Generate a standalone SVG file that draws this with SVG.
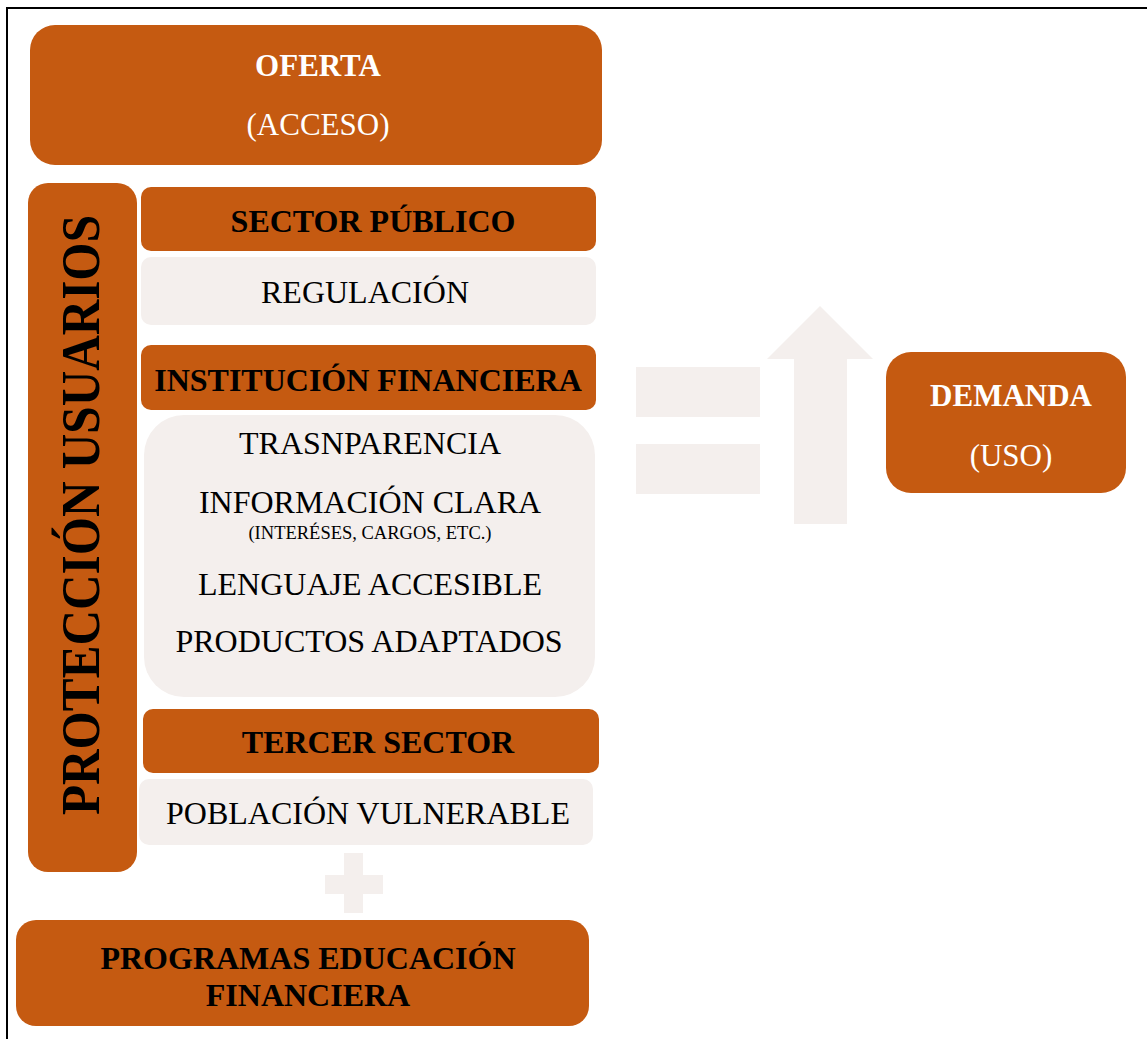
<svg xmlns="http://www.w3.org/2000/svg" width="1147" height="1039" viewBox="0 0 1147 1039">
<style>
.o{fill:#C55A11}
.l{fill:#F4EFED}
text{font-family:"Liberation Serif","Times New Roman",serif;text-anchor:middle}
.b{font-weight:bold;font-size:32px;fill:#000}
.n{font-size:32px;fill:#000}
.w{fill:#fff;font-size:31px}
</style>
<rect x="0" y="0" width="1147" height="1039" fill="#fff"/>
<rect x="7" y="8" width="1150" height="1045" fill="none" stroke="#000" stroke-width="2"/>
<g id="connectors">
<rect class="l" x="636" y="367" width="124" height="50"/>
<rect class="l" x="636" y="444" width="124" height="50"/>
<polygon class="l" points="794,524 847,524 847,359 873,359 820,306 767,359 794,359"/>
<rect class="l" x="344" y="853" width="19" height="60"/>
<rect class="l" x="325" y="875" width="58" height="19"/>
</g>
<g id="oferta">
<rect class="o" x="30" y="25" width="572" height="140" rx="25"/>
<text class="w" x="318" y="76" font-weight="bold">OFERTA</text>
<text class="w" x="318" y="135">(ACCESO)</text>
</g>
<g id="proteccion">
<rect class="o" x="28" y="183" width="109" height="689" rx="20"/>
<text class="b" transform="translate(99,515) rotate(-90)" style="font-size:55px" textLength="600" lengthAdjust="spacingAndGlyphs">PROTECCIÓN  USUARIOS</text>
</g>
<g id="sector-publico">
<rect class="o" x="141" y="187" width="455" height="64" rx="10"/>
<text class="b" x="373" y="232">SECTOR PÚBLICO</text>
</g>
<g id="regulacion">
<rect class="l" x="141" y="257" width="455" height="68" rx="10"/>
<text class="n" x="365" y="303">REGULACIÓN</text>
</g>
<g id="institucion">
<rect class="o" x="141" y="345" width="455" height="65" rx="10"/>
<text class="b" x="368" y="391">INSTITUCIÓN FINANCIERA</text>
</g>
<g id="institucion-items">
<rect class="l" x="144" y="415" width="451" height="282" rx="40"/>
<text class="n" x="370" y="454">TRASNPARENCIA</text>
<text class="n" x="370" y="513">INFORMACIÓN CLARA</text>
<text class="n" x="370" y="539" style="font-size:18.5px">(INTERÉSES, CARGOS, ETC.)</text>
<text class="n" x="370" y="595">LENGUAJE ACCESIBLE</text>
<text class="n" x="369" y="652">PRODUCTOS ADAPTADOS</text>
</g>
<g id="tercer-sector">
<rect class="o" x="143" y="709" width="456" height="64" rx="10"/>
<text class="b" x="378" y="753">TERCER SECTOR</text>
</g>
<g id="poblacion">
<rect class="l" x="139" y="779" width="454" height="66" rx="10"/>
<text class="n" x="368" y="824">POBLACIÓN VULNERABLE</text>
</g>
<g id="programas">
<rect class="o" x="16" y="920" width="573" height="106" rx="20"/>
<text class="b" x="308" y="969">PROGRAMAS EDUCACIÓN</text>
<text class="b" x="308" y="1006">FINANCIERA</text>
</g>
<g id="demanda">
<rect class="o" x="886" y="352" width="240" height="141" rx="25"/>
<text class="w" x="1011" y="406" font-weight="bold">DEMANDA</text>
<text class="w" x="1011" y="466">(USO)</text>
</g>
</svg>
